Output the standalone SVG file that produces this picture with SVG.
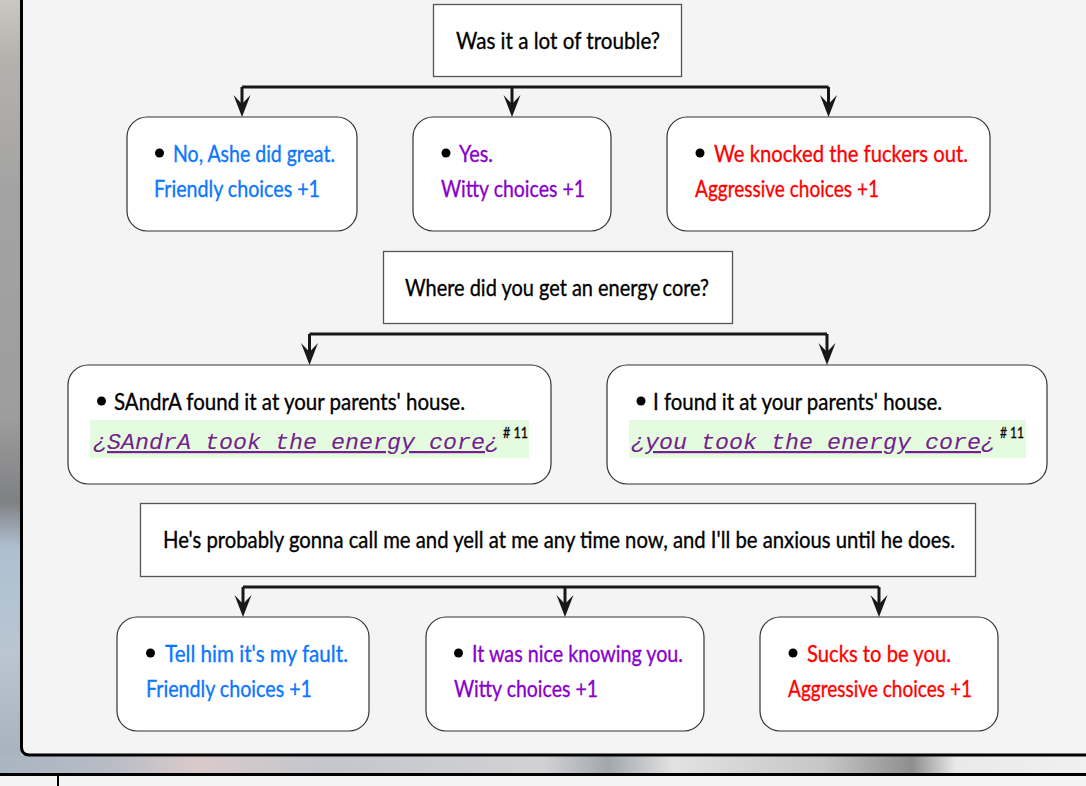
<svg xmlns="http://www.w3.org/2000/svg" xmlns:xlink="http://www.w3.org/1999/xlink" width="1086" height="786" viewBox="0 0 1086 786">
  <defs>
    <linearGradient id="bgLeft" x1="0" y1="0" x2="0" y2="1">
      <stop offset="0" stop-color="#cbc7c2"/>
      <stop offset="0.08" stop-color="#b4b1ad"/>
      <stop offset="0.25" stop-color="#a3a3a3"/>
      <stop offset="0.55" stop-color="#9d9d9d"/>
      <stop offset="0.66" stop-color="#7f8082"/>
      <stop offset="0.72" stop-color="#aebfd0"/>
      <stop offset="0.86" stop-color="#b9c6d2"/>
      <stop offset="1" stop-color="#a6b2be"/>
    </linearGradient>
    <linearGradient id="bgBottom" x1="0" y1="0" x2="1" y2="0">
      <stop offset="0" stop-color="#a9b5c1"/>
      <stop offset="0.1" stop-color="#b7bcc4"/>
      <stop offset="0.18" stop-color="#d9cacb"/>
      <stop offset="0.3" stop-color="#c4c6cc"/>
      <stop offset="0.5" stop-color="#d2d2d4"/>
      <stop offset="0.56" stop-color="#a2a7ad"/>
      <stop offset="0.62" stop-color="#e2e2e2"/>
      <stop offset="0.76" stop-color="#c6c6c6"/>
      <stop offset="0.84" stop-color="#8e8e8e"/>
      <stop offset="0.88" stop-color="#e9e9e9"/>
      <stop offset="1" stop-color="#f0f0f0"/>
    </linearGradient>
    <!-- barbed arrowhead, tip at origin, pointing down -->
    <path id="arrowhead" d="M0,0 L-8.5,-22 L0,-13 L8.5,-22 Z" fill="#181818"/>
    <style>
      .question { fill: #fff; stroke: #555; stroke-width: 1.3; }
      .option { fill: #fff; stroke: #333; stroke-width: 1.2; }
      .wire { fill: none; stroke: #181818; stroke-width: 3; }
      .txt { font-family: Lato, "Open Sans", "Liberation Sans", sans-serif; font-size: 24px; stroke-width: 0.35px; }
      .q { fill: #000; stroke: #000; }
      .friendly { fill: #0b76ff; stroke: #0b76ff; }
      .witty { fill: #8800cc; stroke: #8800cc; }
      .aggressive { fill: #ff0000; stroke: #ff0000; }
      .plain { fill: #000; stroke: #000; }
      .hl { fill: #e5fbe0; }
      .mono { font-family: "Liberation Mono", "DejaVu Sans Mono", monospace; font-style: italic; font-size: 22px; fill: #74208f; }
      .sup { font-family: Lato, "Liberation Sans", sans-serif; font-size: 15px; fill: #000; stroke: #000; stroke-width: 0.3px; }
      .dot { fill: #000; }
    </style>
  </defs>

  <!-- backdrop photo strips -->
  <rect x="0" y="0" width="1086" height="786" fill="#d0d0d0"/>
  <rect x="0" y="0" width="24" height="760" fill="url(#bgLeft)"/>
  <rect x="0" y="755" width="1086" height="19" fill="url(#bgBottom)"/>

  <!-- main panel -->
  <rect x="21.5" y="-10" width="1080" height="765" fill="#f4f4f4"/>
  <path d="M21.5,-10 L21.5,747 Q21.5,755 29.5,755 L1100,755" fill="none" stroke="#000" stroke-width="3"/>

  <!-- lower bar -->
  <rect x="0" y="773" width="1086" height="3" fill="#000"/>
  <rect x="0" y="776" width="1086" height="10" fill="#f4f4f4"/>
  <rect x="57" y="776" width="2" height="10" fill="#000"/>

  <!-- connectors -->
  <g id="connectors">
    <path class="wire" d="M242,87 L828.5,87 M242,87 L242,106 M512,87 L512,106 M828.5,87 L828.5,106"/>
    <use xlink:href="#arrowhead" x="242" y="117"/>
    <use xlink:href="#arrowhead" x="512" y="117"/>
    <use xlink:href="#arrowhead" x="828.5" y="117"/>

    <path class="wire" d="M309.5,334 L827,334 M309.5,334 L309.5,354 M827,334 L827,354"/>
    <use xlink:href="#arrowhead" x="309.5" y="365"/>
    <use xlink:href="#arrowhead" x="827" y="365"/>

    <path class="wire" d="M243,587 L879,587 M243,587 L243,606 M565,587 L565,606 M879,587 L879,606"/>
    <use xlink:href="#arrowhead" x="243" y="617"/>
    <use xlink:href="#arrowhead" x="565" y="617"/>
    <use xlink:href="#arrowhead" x="879" y="617"/>
  </g>

  <!-- question 1 -->
  <g id="q1">
    <rect class="question" x="433.5" y="4.5" width="248" height="72"/>
    <text class="txt q" x="456" y="49" textLength="204" lengthAdjust="spacingAndGlyphs">Was it a lot of trouble?</text>
  </g>

  <g id="a1">
    <rect class="option" x="127" y="117" width="230" height="114" rx="20"/>
    <circle class="dot" cx="159.5" cy="153" r="4.5"/>
    <text class="txt friendly" x="173" y="162" textLength="162" lengthAdjust="spacingAndGlyphs">No, Ashe did great.</text>
    <text class="txt friendly" x="154" y="197" textLength="166" lengthAdjust="spacingAndGlyphs">Friendly choices +1</text>
  </g>

  <g id="b1">
    <rect class="option" x="413" y="117" width="198" height="114" rx="20"/>
    <circle class="dot" cx="446" cy="153" r="4.5"/>
    <text class="txt witty" x="459" y="162" textLength="34" lengthAdjust="spacingAndGlyphs">Yes.</text>
    <text class="txt witty" x="441" y="197" textLength="144" lengthAdjust="spacingAndGlyphs">Witty choices +1</text>
  </g>

  <g id="c1">
    <rect class="option" x="667" y="117" width="323" height="114" rx="20"/>
    <circle class="dot" cx="700" cy="153" r="4.5"/>
    <text class="txt aggressive" x="714" y="162" textLength="254" lengthAdjust="spacingAndGlyphs">We knocked the fuckers out.</text>
    <text class="txt aggressive" x="695" y="197" textLength="184" lengthAdjust="spacingAndGlyphs">Aggressive choices +1</text>
  </g>

  <!-- question 2 -->
  <g id="q2">
    <rect class="question" x="383.5" y="251.5" width="349" height="72"/>
    <text class="txt q" x="405" y="296" textLength="304" lengthAdjust="spacingAndGlyphs">Where did you get an energy core?</text>
  </g>

  <g id="d2">
    <rect class="option" x="68" y="365" width="483" height="119" rx="20"/>
    <circle class="dot" cx="101.5" cy="401" r="4.5"/>
    <text class="txt plain" x="114" y="410" textLength="351" lengthAdjust="spacingAndGlyphs">SAndrA found it at your parents' house.</text>
    <rect class="hl" x="90" y="420" width="439" height="38"/>
    <text class="mono" x="93" y="449" textLength="406" lengthAdjust="spacingAndGlyphs">¿<tspan text-decoration="underline">SAndrA took the energy core</tspan>¿</text>
    <text class="sup" x="503" y="438" textLength="25" lengthAdjust="spacingAndGlyphs"># 11</text>
  </g>

  <g id="e2">
    <rect class="option" x="607" y="365" width="440" height="119" rx="20"/>
    <circle class="dot" cx="641" cy="401" r="4.5"/>
    <text class="txt plain" x="653" y="410" textLength="289" lengthAdjust="spacingAndGlyphs">I found it at your parents' house.</text>
    <rect class="hl" x="629" y="420" width="397" height="38"/>
    <text class="mono" x="631" y="449" textLength="364" lengthAdjust="spacingAndGlyphs">¿<tspan text-decoration="underline">you took the energy core</tspan>¿</text>
    <text class="sup" x="1000" y="438" textLength="24" lengthAdjust="spacingAndGlyphs"># 11</text>
  </g>

  <!-- question 3 -->
  <g id="q3">
    <rect class="question" x="140.5" y="503.5" width="835" height="73"/>
    <text class="txt q" x="163" y="548" font-size="23" textLength="792" lengthAdjust="spacingAndGlyphs">He's probably gonna call me and yell at me any time now, and I'll be anxious until he does.</text>
  </g>

  <g id="f3">
    <rect class="option" x="117" y="617" width="252" height="114" rx="20"/>
    <circle class="dot" cx="150.5" cy="653" r="4.5"/>
    <text class="txt friendly" x="165" y="662" textLength="183" lengthAdjust="spacingAndGlyphs">Tell him it's my fault.</text>
    <text class="txt friendly" x="146" y="697" textLength="166" lengthAdjust="spacingAndGlyphs">Friendly choices +1</text>
  </g>

  <g id="g3">
    <rect class="option" x="426" y="617" width="278" height="114" rx="20"/>
    <circle class="dot" cx="458.5" cy="653" r="4.5"/>
    <text class="txt witty" x="472" y="662" textLength="211" lengthAdjust="spacingAndGlyphs">It was nice knowing you.</text>
    <text class="txt witty" x="454" y="697" textLength="144" lengthAdjust="spacingAndGlyphs">Witty choices +1</text>
  </g>

  <g id="h3">
    <rect class="option" x="760" y="617" width="238" height="114" rx="20"/>
    <circle class="dot" cx="793" cy="653" r="4.5"/>
    <text class="txt aggressive" x="807" y="662" textLength="144" lengthAdjust="spacingAndGlyphs">Sucks to be you.</text>
    <text class="txt aggressive" x="788" y="697" textLength="184" lengthAdjust="spacingAndGlyphs">Aggressive choices +1</text>
  </g>
</svg>
